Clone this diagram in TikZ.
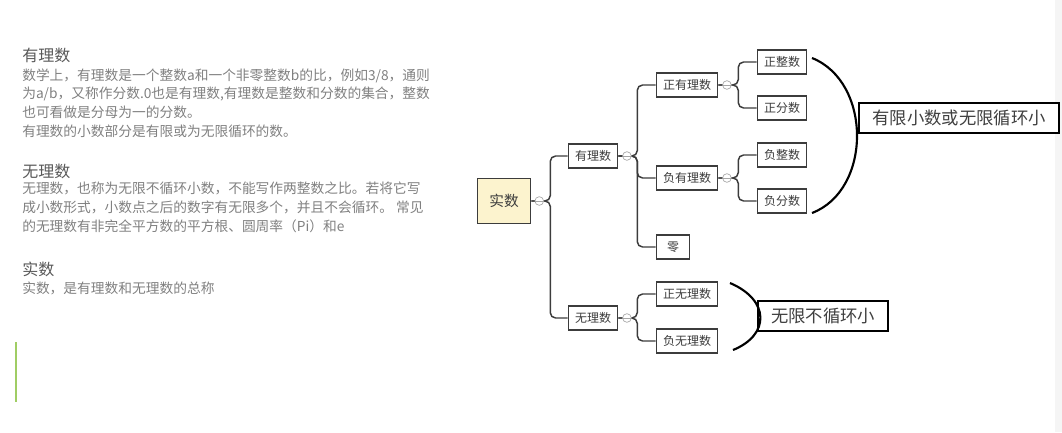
\documentclass[tikz,border=0pt]{standalone}
\usepackage{fontspec}
\setmainfont{Noto Sans CJK SC}
\usepackage{xcolor}
\usepackage{tikz}
\usetikzlibrary{positioning, calc}
\definecolor{rootyellow}{RGB}{252,243,206}
\definecolor{barGreen}{RGB}{160,205,100}
\definecolor{inkgray}{RGB}{60,60,60}
\begin{document}
\begin{tikzpicture}[x=0.75pt, y=-0.75pt,
			topic/.style={rectangle, draw=inkgray, line width=0.9pt, fill=white, minimum width=25pt, minimum height=18pt, inner xsep=5pt, inner ysep=2pt, text=inkgray, font=\fontsize{9}{10}\selectfont},
			root/.style={topic, fill=rootyellow, minimum width=40pt, minimum height=34pt, font=\fontsize{11}{12}\selectfont},
			note/.style={rectangle, draw=black, line width=1.6pt, fill=white, minimum height=22pt, inner xsep=10pt, text=black!75, font=\fontsize{13}{14}\selectfont},
			fold/.style={circle, draw=gray!70, fill=white, line width=0.5pt, minimum size=6.5pt, inner sep=0pt, path picture={\draw[gray!70, line width=0.5pt] (path picture bounding box.west) -- (path picture bounding box.east);}},
			link/.style={draw=inkgray, line width=1.1pt, rounded corners=4pt},
			brace/.style={draw=black, line width=1.6pt},
			head/.style={anchor=base west, inner sep=0pt, text=black!65, font=\fontsize{12}{14}\selectfont},
			para/.style={anchor=base west, align=left, inner sep=0pt, text=black!50, font=\fontsize{10.3}{14}\selectfont},
			]
			\useasboundingbox (0,0) rectangle (1062,432);
			\fill[gray!8] (1055,0) rectangle (1062,432);
			\draw[barGreen, line width=1.5pt] (16,342) -- (16,402);

			\node[head] (h1) at (22,61) {有理数};
			\node[para] (p1) at (22,136) {数学上，有理数是一个整数a和一个非零整数b的比，例如3/8，通则\\为a/b，又称作分数.0也是有理数,有理数是整数和分数的集合，整数\\也可看做是分母为一的分数。\\有理数的小数部分是有限或为无限循环的数。};
			\node[head] (h2) at (22,177) {无理数};
			\node[para] (p2) at (22,231) {无理数，也称为无限不循环小数，不能写作两整数之比。若将它写\\成小数形式，小数点之后的数字有无限多个，并且不会循环。 常见\\的无理数有非完全平方数的平方根、圆周率（Pi）和e};
			\node[head] (h3) at (22,275) {实数};
			\node[para] (p3) at (22,293) {实数，是有理数和无理数的总称};

			\node[root] (shishu) at (504,201) {实数};
			\node[topic] (youli) at (593,156) {有理数};
			\node[topic] (wuli) at (593,318) {无理数};
			\node[topic] (zhengyouli) at (687,85) {正有理数};
			\node[topic] (fuyouli) at (687,178) {负有理数};
			\node[topic] (ling) at (673,247) {零};
			\node[topic] (zhengzheng) at (782,62) {正整数};
			\node[topic] (zhengfen) at (782,108) {正分数};
			\node[topic] (fuzheng) at (782,155) {负整数};
			\node[topic] (fufen) at (782,201) {负分数};
			\node[topic] (zhengwu) at (687,294) {正无理数};
			\node[topic] (fuwu) at (687,341) {负无理数};

			\draw[link] (shishu.east) -- ++(19,0) |- (youli.west);
			\draw[link] (shishu.east) -- ++(19,0) |- (wuli.west);
			\draw[link] (youli.east) -- ++(19,0) |- (zhengyouli.west);
			\draw[link] (youli.east) -- ++(19,0) |- (fuyouli.west);
			\draw[link] (youli.east) -- ++(19,0) |- (ling.west);
			\draw[link] (zhengyouli.east) -- ++(20,0) |- (zhengzheng.west);
			\draw[link] (zhengyouli.east) -- ++(20,0) |- (zhengfen.west);
			\draw[link] (fuyouli.east) -- ++(20,0) |- (fuzheng.west);
			\draw[link] (fuyouli.east) -- ++(20,0) |- (fufen.west);
			\draw[link] (wuli.east) -- ++(19,0) |- (zhengwu.west);
			\draw[link] (wuli.east) -- ++(19,0) |- (fuwu.west);

			\node[fold] (fold0) at ([xshift=6pt]shishu.east) {};
			\node[fold] (fold1) at ([xshift=6.5pt]youli.east) {};
			\node[fold] (fold2) at ([xshift=6.5pt]wuli.east) {};
			\node[fold] (fold3) at ([xshift=6.5pt]zhengyouli.east) {};
			\node[fold] (fold4) at ([xshift=6.5pt]fuyouli.east) {};

			\node[note] (youxian) at (959,118) {有限小数或无限循环小};
			\node[note] (wuxian) at (823,316) {无限不循环小};
			\coordinate (arcA) at (812,58);
			\coordinate (arcB) at (812,213);
			\coordinate (arcC) at (730,283);
			\coordinate (arcD) at (733,350);
			\draw[brace] (arcA) .. controls (872,82) and (872,190) .. (arcB);
			\draw[brace] (arcC) .. controls (770,300) and (770,335) .. (arcD);
		\end{tikzpicture}
\end{document}
